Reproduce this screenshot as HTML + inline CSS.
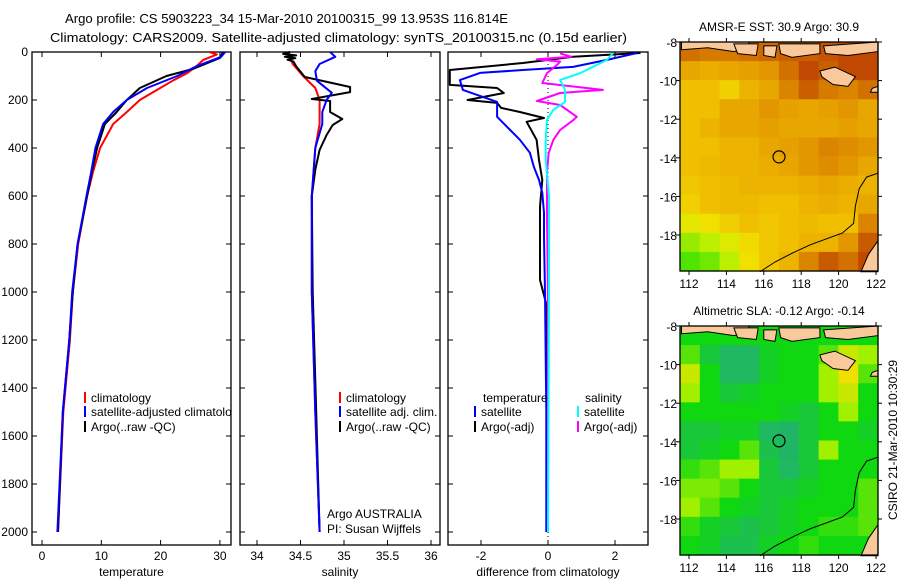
<!DOCTYPE html>
<html><head><meta charset="utf-8">
<style>
html,body{margin:0;padding:0;background:#fff;}
svg{display:block;font-family:"Liberation Sans",sans-serif;}
</style></head>
<body>
<svg id="fig" width="900" height="580" viewBox="0 0 900 580" xmlns="http://www.w3.org/2000/svg">
<text x="65" y="23" font-size="13" textLength="443" lengthAdjust="spacingAndGlyphs">Argo profile: CS 5903223_34 15-Mar-2010 20100315_99 13.953S 116.814E</text>
<text x="50" y="42" font-size="13" textLength="577" lengthAdjust="spacingAndGlyphs">Climatology: CARS2009. Satellite-adjusted climatology: synTS_20100315.nc (0.15d earlier)</text>
</svg>
<script>
// ---------- profile data (depth m, value) ----------
const depthTicks = [0,200,400,600,800,1000,1200,1400,1600,1800,2000];
const tempTicks = [0,10,20,30];
const salTicks = [34,34.5,35,35.5,36];
const diffTicks = [-2,0,2];
const tempClimDepth = [0,10,33,60,88,120,158,200,250,300,400,500,600,800,1000,1200,1500,2000];
const tempClimVal   = [28.2,29.5,27.2,26,24.5,22,19.4,16.5,14.3,12,9.8,8.6,7.6,6.1,5.2,4.7,3.6,2.7];
const tempSatDepth = [0,20,60,100,150,200,250,300,400,500,600,800,1000,1200,1500,2000];
const tempSatVal   = [30.9,30.2,26,22.8,17.7,14.3,12,10.3,9,8.3,7.5,6,5.1,4.6,3.5,2.6];
const tempArgoDepth = [0,25,70,100,150,200,250,300,400,500,600,800,1000,1200,1500,2000];
const tempArgoVal   = [30.5,30,25.5,21,16.5,14.3,12.6,10.6,9.3,8.4,7.6,6.0,5.2,4.6,3.5,2.7];
const salClimDepth = [0,50,100,150,200,300,400,600,1000,1500,2000];
const salClimVal   = [34.36,34.41,34.53,34.67,34.72,34.72,34.67,34.63,34.63,34.67,34.72];
const salSatDepth = [0,20,50,80,120,170,200,250,300,400,600,1000,1500,2000];
const salSatVal   = [34.84,34.9,34.72,34.67,34.69,34.86,34.8,34.75,34.75,34.67,34.63,34.63,34.67,34.72];
const salArgoDepth = [0,8,14,20,26,32,40,60,104,146,167,196,204,250,279,304,346,408,490,600,1000,1500,2000];
const salArgoVal   = [34.38,34.3,34.45,34.32,34.44,34.35,34.42,34.45,34.55,35.07,35.07,34.63,34.84,34.84,34.98,34.87,34.8,34.72,34.67,34.63,34.64,34.68,34.72];
const dTSatDepth = [4,33,62,75,87,117,158,208,270,312,366,420,479,533,587,670,770,1000,1500,2000];
const dTSatVal   = [2.66,1.76,0.75,-0.75,-2.03,-2.63,-2.54,-1.52,-1.52,-1.22,-0.84,-0.54,-0.42,-0.27,-0.17,-0.12,-0.12,-0.09,-0.05,-0.05];
const dTArgoDepth = [4,20,46,75,137,150,171,200,212,233,250,275,291,366,450,533,645,754,950,1050,1500,2000];
const dTArgoVal   = [2.76,0.75,-0.75,-2.93,-2.93,-1.52,-1.32,-2.4,-1.52,-1.4,-0.84,-0.12,-0.64,-0.34,-0.27,-0.17,-0.24,-0.24,-0.24,-0.05,-0.03,-0.02];
const dSSatDepth = [4,33,88,117,158,208,241,283,366,450,600,1000,2000];
const dSSatVal   = [1.94,1.76,0.96,0.36,0.51,0.51,0.16,-0.03,-0.07,-0.07,0.03,0.03,0.0];
const dSArgoDepth = [6,20,30,40,50,88,129,158,171,204,221,270,283,325,366,420,500,700,1000,2000];
const dSArgoVal   = [0.36,0.7,-0.33,0.36,0.3,-0.03,-0.17,1.64,0.36,-0.33,0.36,0.86,0.76,0.36,0.16,0.02,-0.03,-0.03,0.0,0.0];

// ---------- map data (rows top->bottom, 10 cols) ----------
const sstGrid = [
[.8,.78,.78,.8,.82,.84,.84,.86,.88,.88],
[.68,.66,.68,.7,.72,.8,.88,.84,.88,.88],
[.6,.6,.55,.64,.68,.76,.84,.78,.76,.8],
[.6,.6,.68,.68,.72,.7,.68,.7,.72,.68],
[.6,.64,.68,.68,.7,.68,.68,.68,.7,.68],
[.6,.6,.64,.64,.68,.7,.72,.76,.74,.72],
[.6,.62,.64,.64,.66,.68,.72,.74,.72,.68],
[.58,.6,.62,.64,.64,.64,.66,.68,.66,.64],
[.55,.6,.62,.62,.6,.6,.64,.66,.64,.68],
[.45,.5,.56,.6,.58,.6,.62,.6,.6,.76],
[.25,.32,.42,.52,.58,.6,.64,.64,.72,.85],
[.12,.18,.32,.5,.58,.64,.76,.85,.8,.88]];
const slaGrid = [
[.5,.5,.5,.5,.5,.5,.5,.5,.5,.5],
[.6,.4,.3,.3,.45,.5,.5,.6,.8,.7],
[.8,.5,.3,.3,.45,.5,.5,.7,.9,.6],
[.7,.5,.4,.45,.5,.5,.5,.7,.8,.5],
[.5,.5,.5,.5,.5,.45,.4,.5,.7,.5],
[.4,.4,.45,.45,.3,.25,.4,.5,.5,.45],
[.4,.45,.5,.6,.35,.25,.4,.7,.5,.5],
[.55,.6,.7,.7,.4,.3,.4,.5,.5,.5],
[.65,.65,.6,.5,.4,.4,.45,.5,.5,.6],
[.7,.6,.5,.45,.4,.45,.5,.5,.5,.6],
[.55,.45,.4,.35,.4,.45,.5,.55,.55,.6],
[.5,.45,.35,.35,.45,.5,.55,.5,.5,.5]];
const lonTicks = [112,114,116,118,120,122];
const latTicks = [-8,-10,-12,-14,-16,-18];
const argoLon = 116.814, argoLat = -13.953;

const NS="http://www.w3.org/2000/svg";
const svg=document.getElementById('fig');
function mk(tag,attrs,parent){const e=document.createElementNS(NS,tag);for(const k in attrs)e.setAttribute(k,attrs[k]);(parent||svg).appendChild(e);return e;}

const yD = d => 52 + d*0.24;
const TOP=52, BOT=545;
function panel(name,x0,x1,xf,ticks,label){
  const g=mk('g',{});
  
  
  const r=mk('rect',{x:x0,y:TOP,width:x1-x0,height:BOT-TOP,fill:'#fff',stroke:'#000','stroke-width':1.3},g);
  
  
  ticks.forEach(t=>{
    const x=xf(t);
    mk('line',{x1:x,x2:x,y1:BOT,y2:BOT-5,stroke:'#000'},g);
    mk('line',{x1:x,x2:x,y1:TOP,y2:TOP+5,stroke:'#000'},g);
    const tx=mk('text',{x:x,y:BOT+15,'font-size':12,'text-anchor':'middle'},g);
    tx.textContent=t;
    
    
  });
  depthTicks.forEach(d=>{
    mk('line',{x1:x0,x2:x0+5,y1:yD(d),y2:yD(d),stroke:'#000'},g);
    mk('line',{x1:x1,x2:x1-5,y1:yD(d),y2:yD(d),stroke:'#000'},g);
  });
  const lt=mk('text',{x:(x0+x1)/2,y:576,'font-size':12,'text-anchor':'middle'},g);
  lt.textContent=label;
  
  
  return g;
}
function line(g,xf,ds,vs,color,name,w){
  const pts=ds.map((d,i)=>xf(vs[i]).toFixed(1)+','+yD(d).toFixed(1)).join(' ');
  const p=mk('polyline',{points:pts,fill:'none',stroke:color,'stroke-width':w||2,'stroke-linejoin':'round'},g);
  
  
}
function legend(g,x,y,color,text,name){
  mk('rect',{x:x,y:y-6,width:2,height:11,fill:color},g);
  const t=mk('text',{x:x+7,y:y+4,'font-size':12},g);
  t.textContent=text;
  
  
}
depthTicks.forEach(d=>{
  const t=mk('text',{x:28,y:yD(d)+4,'font-size':12,'text-anchor':'end'});
  t.textContent=d;
  
  
});
// Panel 1 temperature
const xT = v => 42 + v*5.93;
const cp=mk('clipPath',{id:'c1'}); mk('rect',{x:32,y:52,width:199,height:493},cp);
const g1=panel('temperature-panel',32,231,xT,tempTicks,'temperature');
const g1c=mk('g',{'clip-path':'url(#c1)'},g1);
line(g1c,xT,tempClimDepth,tempClimVal,'#f00','temperature-climatology-line');
line(g1c,xT,tempArgoDepth,tempArgoVal,'#000','temperature-argo-line');
line(g1c,xT,tempSatDepth,tempSatVal,'#00f','temperature-satellite-line');
legend(g1c,84,398,'#f00','climatology','legend-climatology');
legend(g1c,84,412,'#00f','satellite-adjusted climatology','legend-satellite-adjusted');
legend(g1c,84,427,'#000','Argo(..raw -QC)','legend-argo');
// Panel 2 salinity
const xS = v => 257 + (v-34)*87;
const g2=panel('salinity-panel',240,440,xS,salTicks,'salinity');
line(g2,xS,salClimDepth,salClimVal,'#f00','salinity-climatology-line');
line(g2,xS,salArgoDepth,salArgoVal,'#000','salinity-argo-line');
line(g2,xS,salSatDepth,salSatVal,'#00f','salinity-satellite-line');
legend(g2,339,398,'#f00','climatology','legend-climatology');
legend(g2,339,412,'#00f','satellite adj. clim.','legend-satellite-adj');
legend(g2,339,427,'#000','Argo(..raw -QC)','legend-argo');
let t=mk('text',{x:327,y:518,'font-size':12},g2); t.textContent='Argo AUSTRALIA';
 
t=mk('text',{x:327,y:533,'font-size':12},g2); t.textContent='PI: Susan Wijffels';
 
// Panel 3 diff
const xDf = v => 548 + v*33.5;
const g3=panel('difference-panel',448,648,xDf,diffTicks,'difference from climatology');
mk('line',{x1:548,x2:548,y1:52,y2:545,stroke:'#000','stroke-dasharray':'1,3'},g3);
line(g3,xDf,dTArgoDepth,dTArgoVal,'#000','temperature-argo-diff-line');
line(g3,xDf,dTSatDepth,dTSatVal,'#00f','temperature-satellite-diff-line');
line(g3,xDf,dSArgoDepth,dSArgoVal,'#f0f','salinity-argo-diff-line');
line(g3,xDf,dSSatDepth,dSSatVal,'#0ff','salinity-satellite-diff-line');
t=mk('text',{x:483,y:402,'font-size':12},g3); t.textContent='temperature';
 
t=mk('text',{x:585,y:402,'font-size':12},g3); t.textContent='salinity';
 
legend(g3,474,412,'#00f','satellite','legend-temp-satellite');
legend(g3,474,427,'#000','Argo(-adj)','legend-temp-argo');
legend(g3,577,412,'#0ff','satellite','legend-sal-satellite');
legend(g3,577,427,'#f0f','Argo(-adj)','legend-sal-argo');

// ---------- maps ----------
function lerpColor(stops,v){
  v=Math.max(0,Math.min(1,v));
  for(let i=1;i<stops.length;i++){if(v<=stops[i][0]){const a=stops[i-1],b=stops[i];const f=(v-a[0])/(b[0]-a[0]||1);
    const c=[0,1,2].map(k=>Math.round(a[1][k]+(b[1][k]-a[1][k])*f));return 'rgb('+c.join(',')+')';}}
  const l=stops[stops.length-1][1];return 'rgb('+l.join(',')+')';
}
const sstStops=[[0,[16,224,0]],[0.35,[204,240,0]],[0.5,[240,224,0]],[0.6,[240,192,0]],[0.7,[230,160,0]],[0.85,[200,90,0]],[1,[160,0,0]]];
const slaStops=[[0,[32,160,128]],[0.3,[32,184,96]],[0.5,[16,216,16]],[0.7,[160,240,0]],[0.9,[240,224,0]],[1,[240,192,0]]];
function drawMap(name,top,grid,stops,title){
  const L=680,R=878,B=top+229;
  const lonX=lo=>689+(lo-112)*18.7, latY=la=>top+(-8-la)*19.3;
  const g=mk('g',{});
  
  
  const ncol=grid[0].length,nrow=grid.length,cw=(R-L)/ncol,ch=(B-top)/nrow;
  grid.forEach((row,ri)=>row.forEach((v,ci)=>{
    const c=mk('rect',{x:L+ci*cw,y:top+ri*ch,width:cw+0.6,height:ch+0.6,fill:lerpColor(stops,v)},g);
    
    
  }));
  const P=pts=>pts.map(p=>lonX(p[0]).toFixed(1)+','+latY(p[1]).toFixed(1)).join(' ');
  const land='#f9c99b';
  const isl=[
    [[111.6,-8],[115.2,-8],[115.2,-8.3],[114.4,-8.5],[113,-8.3],[111.6,-8.4]],
    [[114.4,-8.1],[115.7,-8.1],[115.6,-8.7],[114.6,-8.6]],
    [[116,-8.2],[116.7,-8.2],[116.6,-8.8],[116,-8.7]],
    [[116.8,-8.1],[119,-8.1],[119,-8.6],[117.5,-8.8],[116.9,-8.6]],
    [[119.2,-8.2],[122.1,-8],[122.1,-8.5],[120.5,-8.7],[119.3,-8.6]],
    [[119.0,-9.5],[119.8,-9.3],[120.9,-9.8],[120.5,-10.3],[119.7,-10.2],[119.1,-9.8]],
    [[121.8,-10.4],[122.1,-10.3],[122.1,-10.6],[121.7,-10.6]],
    [[122.1,-18.3],[121.6,-19],[121.2,-19.9],[122.1,-19.9]]];
  isl.forEach(s=>{const p=mk('polygon',{points:P(s),fill:land,stroke:'#000','stroke-width':1},g);
     });
  const coast=mk('polyline',{points:P([[122.1,-14.8],[121.5,-15],[121.1,-15.6],[120.9,-16.5],[120.8,-17.4],[120.2,-17.9],[118.5,-18.5],[117.6,-18.9],[116.6,-19.4],[115.8,-19.9]]),fill:'none',stroke:'#000','stroke-width':1},g);
   
  const ci=mk('circle',{cx:lonX(argoLon),cy:latY(argoLat),r:6,fill:'none',stroke:'#000','stroke-width':1.2},g);
   
  const fr=mk('rect',{x:L,y:top,width:R-L,height:B-top,fill:'none',stroke:'#000','stroke-width':1.3},g);
   
  lonTicks.forEach(lo=>{const x=lonX(lo);mk('line',{x1:x,x2:x,y1:B,y2:B+4,stroke:'#000'},g);mk('line',{x1:x,x2:x,y1:top,y2:top-4,stroke:'#000'},g);
    const tt=mk('text',{x:x,y:B+17,'font-size':12,'text-anchor':'middle'},g);tt.textContent=lo;
     });
  latTicks.forEach(la=>{const y=latY(la);mk('line',{x1:L,x2:L-4,y1:y,y2:y,stroke:'#000'},g);mk('line',{x1:R,x2:R+4,y1:y,y2:y,stroke:'#000'},g);
    const tt=mk('text',{x:L-3,y:y+5,'font-size':12,'text-anchor':'end'},g);tt.textContent=la;
     });
  const ti=mk('text',{x:779,y:top-11,'font-size':12,'text-anchor':'middle'},g);ti.textContent=title;
   
}
drawMap('sst-map',42,sstGrid,sstStops,'AMSR-E SST: 30.9 Argo: 30.9');
drawMap('sla-map',326,slaGrid,slaStops,'Altimetric SLA: -0.12 Argo: -0.14');
t=mk('text',{x:0,y:0,'font-size':12,'text-anchor':'middle',transform:'translate(897,440) rotate(-90)'});
t.textContent='CSIRO 21-Mar-2010 10:30:29';
 
</script>
</body></html>
